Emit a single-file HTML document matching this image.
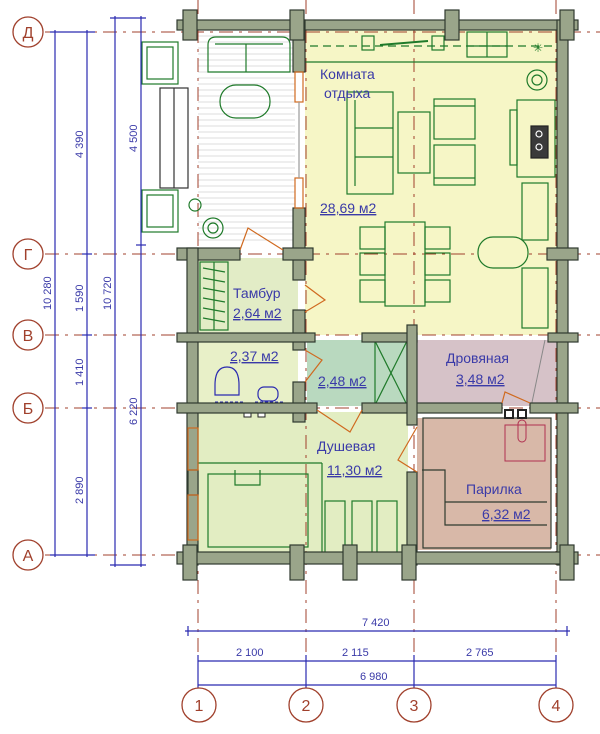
<!DOCTYPE html>
<html><head><meta charset="utf-8"><style>
html,body{margin:0;padding:0;background:#fff}
svg{display:block}
text{font-family:"Liberation Sans",sans-serif}
.t{fill:#3a3aa8;font-size:14px}
.d{fill:#3a3aa8;font-size:11px}
.ax{stroke:#a0402c;stroke-width:1;stroke-dasharray:14 6 3 6;fill:none}
.w{fill:#9aa58a;stroke:#2f3a2f;stroke-width:1.2}
.f{fill:none;stroke:#1f7a2a;stroke-width:1.2}
.dm{stroke:#2a2ab0;stroke-width:1.2;fill:none}
.c{fill:#fff;stroke:#a0402c;stroke-width:1.3}
.cl{fill:#a0402c;font-size:16px;text-anchor:middle}
</style></head><body>
<svg width="600" height="734" viewBox="0 0 600 734" xmlns="http://www.w3.org/2000/svg">
<!-- room fills -->
<rect x="305" y="30" width="253" height="305" fill="#f6f6c6"/>
<rect x="198" y="258" width="100" height="76" fill="#e2ecc6"/>
<rect x="198" y="340" width="100" height="66" fill="#e8f0c8"/>
<rect x="307" y="340" width="101" height="66" fill="#b9d9bf"/>
<rect x="417" y="340" width="140" height="66" fill="#d6c2c8"/>
<rect x="198" y="412" width="210" height="142" fill="#e2edc2"/>
<rect x="417" y="418" width="134" height="132" fill="#d8b8a8"/>
<!-- terrace hatch -->
<rect x="198" y="30" width="97" height="218" fill="#fff"/>
<g stroke="#d0d0d0" stroke-width="0.8">
<line x1="198" y1="36" x2="295" y2="36"/><line x1="198" y1="42" x2="295" y2="42"/><line x1="198" y1="48" x2="295" y2="48"/><line x1="198" y1="54" x2="295" y2="54"/><line x1="198" y1="60" x2="295" y2="60"/><line x1="198" y1="66" x2="295" y2="66"/><line x1="198" y1="72" x2="295" y2="72"/><line x1="198" y1="78" x2="295" y2="78"/><line x1="198" y1="84" x2="295" y2="84"/><line x1="198" y1="90" x2="295" y2="90"/><line x1="198" y1="96" x2="295" y2="96"/><line x1="198" y1="102" x2="295" y2="102"/><line x1="198" y1="108" x2="295" y2="108"/><line x1="198" y1="114" x2="295" y2="114"/><line x1="198" y1="120" x2="295" y2="120"/><line x1="198" y1="126" x2="295" y2="126"/><line x1="198" y1="132" x2="295" y2="132"/><line x1="198" y1="138" x2="295" y2="138"/><line x1="198" y1="144" x2="295" y2="144"/><line x1="198" y1="150" x2="295" y2="150"/><line x1="198" y1="156" x2="295" y2="156"/><line x1="198" y1="162" x2="295" y2="162"/><line x1="198" y1="168" x2="295" y2="168"/><line x1="198" y1="174" x2="295" y2="174"/><line x1="198" y1="180" x2="295" y2="180"/><line x1="198" y1="186" x2="295" y2="186"/><line x1="198" y1="192" x2="295" y2="192"/><line x1="198" y1="198" x2="295" y2="198"/><line x1="198" y1="204" x2="295" y2="204"/><line x1="198" y1="210" x2="295" y2="210"/><line x1="198" y1="216" x2="295" y2="216"/><line x1="198" y1="222" x2="295" y2="222"/><line x1="198" y1="228" x2="295" y2="228"/><line x1="198" y1="234" x2="295" y2="234"/><line x1="198" y1="240" x2="295" y2="240"/>
</g>
<!-- axes -->
<g class="ax">
<line x1="45" y1="32" x2="600" y2="32"/><line x1="45" y1="254" x2="600" y2="254"/><line x1="45" y1="335" x2="600" y2="335"/><line x1="45" y1="408" x2="600" y2="408"/><line x1="45" y1="555" x2="600" y2="555"/>
<line x1="198" y1="0" x2="198" y2="688"/><line x1="306" y1="0" x2="306" y2="688"/><line x1="414" y1="0" x2="414" y2="688"/><line x1="556" y1="0" x2="556" y2="688"/>
</g>
<!-- outside furniture left of terrace -->
<g class="f">
<rect x="142" y="42" width="36" height="42"/><rect x="147" y="47" width="26" height="32"/>
<rect x="142" y="190" width="36" height="42"/><rect x="147" y="195" width="26" height="32"/>
<rect x="160" y="88" width="28" height="100" stroke="#333"/><line x1="174" y1="88" x2="174" y2="188" stroke="#333"/>
<path d="M208 72 V45 q0-8 8-8 h66 q8 0 8 8 V72 Z"/><line x1="215" y1="44" x2="283" y2="44"/><line x1="246" y1="44" x2="246" y2="72"/>
<rect x="220" y="85" width="50" height="33" rx="16"/>
<circle cx="213" cy="228" r="10"/><circle cx="213" cy="228" r="5"/><circle cx="195" cy="205" r="6"/>
</g>
<!-- room otdykha furniture -->
<g class="f">
<line x1="305" y1="62" x2="557" y2="62" stroke="#1f7a2a"/>
<line x1="310" y1="46" x2="555" y2="46" stroke-dasharray="8 5"/>
<rect x="362" y="36" width="12" height="14"/><rect x="432" y="36" width="12" height="14"/>
<line x1="380" y1="45" x2="428" y2="41" stroke-width="2"/>
<rect x="467" y="32" width="40" height="25"/><line x1="487" y1="32" x2="487" y2="57"/><line x1="467" y1="46" x2="507" y2="46"/>
<text x="533" y="52" fill="#1f7a2a" font-size="12" stroke="none">✳</text>
<circle cx="537" cy="80" r="10"/><circle cx="537" cy="80" r="5"/>
<rect x="347" y="92" width="46" height="102"/><line x1="355" y1="100" x2="355" y2="186"/><line x1="355" y1="128" x2="393" y2="128"/><line x1="355" y1="157" x2="393" y2="157"/>
<rect x="398" y="112" width="32" height="61"/>
<rect x="434" y="99" width="41" height="40"/><line x1="434" y1="106" x2="475" y2="106"/>
<rect x="434" y="145" width="41" height="40"/><line x1="434" y1="178" x2="475" y2="178"/>
<rect x="517" y="100" width="38" height="77"/><rect x="510" y="110" width="7" height="55"/>
<rect x="531" y="126" width="17" height="32" fill="#3a3a3a" stroke="#222"/>
<circle cx="539" cy="134" r="3" fill="none" stroke="#fff"/><circle cx="539" cy="147" r="3" fill="none" stroke="#fff"/>
<rect x="385" y="222" width="40" height="84"/>
<rect x="360" y="227" width="25" height="22"/><rect x="360" y="253" width="25" height="22"/><rect x="360" y="280" width="25" height="22"/>
<rect x="425" y="227" width="25" height="22"/><rect x="425" y="253" width="25" height="22"/><rect x="425" y="280" width="25" height="22"/>
<rect x="522" y="183" width="26" height="57"/><rect x="522" y="268" width="26" height="60"/>
<rect x="478" y="237" width="50" height="31" rx="15" fill="#f6f6c6"/>
</g>
<!-- tambur hatch -->
<g class="f"><rect x="200" y="262" width="28" height="68"/><line x1="214" y1="262" x2="214" y2="330"/>
<path d="M203 268 L225 272 M203 278 L225 282 M203 288 L225 292 M203 298 L225 302 M203 308 L225 312 M203 318 L225 322"/></g>
<!-- 2.37 wc -->
<g stroke="#2a2ab0" fill="none" stroke-width="1.2">
<path d="M215 385 q0-18 12-18 q12 0 12 18 v10 h-24 Z"/><rect x="258" y="387" width="20" height="14" rx="6"/>
<path d="M215 403 h30 M255 403 h30" stroke-dasharray="3 2" stroke-width="3"/>
</g>
<rect x="244" y="410" width="7" height="7" fill="#fff" stroke="#222"/><rect x="258" y="410" width="7" height="7" fill="#fff" stroke="#222"/>
<!-- 2.48 cross -->
<g class="f"><rect x="375" y="341" width="32" height="64"/><line x1="375" y1="341" x2="407" y2="405"/><line x1="407" y1="341" x2="375" y2="405"/></g>
<!-- shower furniture -->
<g class="f">
<line x1="198" y1="463" x2="322" y2="463"/><line x1="322" y1="463" x2="322" y2="555"/>
<rect x="208" y="474" width="100" height="73"/>
<path d="M235 470 V485 H260 V470"/>
<rect x="325" y="501" width="20" height="52"/><rect x="352" y="501" width="20" height="52"/><rect x="377" y="501" width="20" height="52"/>
</g>
<!-- parilka -->
<g stroke="#2f3a2f" fill="none" stroke-width="1.2">
<rect x="423" y="418" width="128" height="130"/>
<path d="M422 470 H445 V525 H547"/><line x1="445" y1="502" x2="547" y2="502"/>
</g>
<rect x="505" y="425" width="40" height="36" fill="none" stroke="#b03050"/>
<rect x="518" y="420" width="8" height="22" rx="4" fill="none" stroke="#b03050"/>
<rect x="505" y="410" width="8" height="8" fill="#fff" stroke="#222" stroke-width="2"/><rect x="518" y="410" width="8" height="8" fill="#fff" stroke="#222" stroke-width="2"/>
<line x1="530" y1="412" x2="545" y2="340" stroke="#888"/>
<!-- walls -->
<g class="w">
<rect x="177" y="20" width="401" height="10"/>
<rect x="557" y="20" width="11" height="545"/>
<rect x="293" y="20" width="12" height="52"/><rect x="293" y="208" width="12" height="72"/>
<rect x="293" y="310" width="12" height="40"/><rect x="293" y="382" width="12" height="40"/>
<rect x="177" y="248" width="63" height="12"/><rect x="283" y="248" width="30" height="12"/><rect x="547" y="248" width="31" height="12"/>
<rect x="187" y="248" width="11" height="317"/>
<rect x="177" y="333" width="138" height="9"/><rect x="362" y="333" width="55" height="9"/><rect x="548" y="333" width="30" height="9"/>
<rect x="177" y="403" width="140" height="10"/><rect x="362" y="403" width="140" height="10"/><rect x="530" y="403" width="48" height="10"/>
<rect x="407" y="325" width="10" height="100"/><rect x="407" y="472" width="10" height="93"/>
<rect x="177" y="552" width="401" height="12"/>
<rect x="183" y="10" width="14" height="30"/><rect x="290" y="10" width="14" height="30"/><rect x="445" y="10" width="14" height="30"/><rect x="560" y="10" width="14" height="30"/>
<rect x="183" y="545" width="14" height="35"/><rect x="290" y="545" width="14" height="35"/><rect x="343" y="545" width="14" height="35"/><rect x="402" y="545" width="14" height="35"/><rect x="560" y="545" width="14" height="35"/>
<rect x="188" y="470" width="10" height="25"/>
</g>
<!-- windows / doors orange -->
<g stroke="#d06a20" fill="none" stroke-width="1.2">
<rect x="295" y="72" width="8" height="30"/><rect x="295" y="178" width="8" height="30"/><line x1="299" y1="102" x2="299" y2="178" stroke="#999"/>
<rect x="188" y="428" width="10" height="42"/><rect x="188" y="495" width="10" height="45"/>
<path d="M240 250 L248 228 L283 250"/><path d="M305 285 L325 300 L305 312"/>
<path d="M305 350 L322 360 L305 382"/><path d="M317 410 L350 432 L362 410"/>
<path d="M417 427 L398 460 L417 472"/><path d="M502 403 L505 392 L530 403"/>
</g>
<!-- labels -->
<text class="t" x="320" y="79">Комната</text><text class="t" x="324" y="98">отдыха</text>
<text class="t" x="320" y="213" text-decoration="underline">28,69 м2</text>
<text class="t" x="233" y="298">Тамбур</text><text class="t" x="233" y="318" text-decoration="underline">2,64 м2</text>
<text class="t" x="230" y="361" text-decoration="underline">2,37 м2</text>
<text class="t" x="318" y="386" text-decoration="underline">2,48 м2</text>
<text class="t" x="446" y="363">Дровяная</text><text class="t" x="456" y="384" text-decoration="underline">3,48 м2</text>
<text class="t" x="317" y="451">Душевая</text><text class="t" x="327" y="475" text-decoration="underline">11,30 м2</text>
<text class="t" x="466" y="494">Парилка</text><text class="t" x="482" y="519" text-decoration="underline">6,32 м2</text>
<!-- left dims -->
<g class="dm">
<line x1="55" y1="30" x2="55" y2="557"/><line x1="87" y1="30" x2="87" y2="557"/>
<line x1="115" y1="16" x2="115" y2="567"/><line x1="141" y1="16" x2="141" y2="567"/>
<line x1="50" y1="32" x2="95" y2="32"/><line x1="82" y1="254" x2="92" y2="254"/><line x1="82" y1="335" x2="92" y2="335"/><line x1="82" y1="408" x2="92" y2="408"/><line x1="50" y1="555" x2="95" y2="555"/>
<line x1="110" y1="18" x2="146" y2="18"/><line x1="136" y1="245" x2="146" y2="245"/><line x1="110" y1="565" x2="146" y2="565"/>
<line x1="185" y1="631" x2="570" y2="631"/>
<line x1="198" y1="661" x2="556" y2="661"/><line x1="198" y1="685" x2="556" y2="685"/>
<line x1="198" y1="655" x2="198" y2="688"/><line x1="306" y1="655" x2="306" y2="688"/><line x1="414" y1="655" x2="414" y2="688"/><line x1="556" y1="655" x2="556" y2="688"/>
<line x1="188" y1="626" x2="188" y2="636"/><line x1="567" y1="626" x2="567" y2="636"/>
</g>
<g class="d">
<text transform="translate(51,310) rotate(-90)">10 280</text>
<text transform="translate(83,158) rotate(-90)">4 390</text>
<text transform="translate(83,312) rotate(-90)">1 590</text>
<text transform="translate(83,386) rotate(-90)">1 410</text>
<text transform="translate(83,504) rotate(-90)">2 890</text>
<text transform="translate(111,310) rotate(-90)">10 720</text>
<text transform="translate(137,152) rotate(-90)">4 500</text>
<text transform="translate(137,425) rotate(-90)">6 220</text>
<text x="362" y="626">7 420</text>
<text x="236" y="656">2 100</text><text x="342" y="656">2 115</text><text x="466" y="656">2 765</text>
<text x="360" y="680">6 980</text>
</g>
<!-- axis circles -->
<circle class="c" cx="28" cy="32" r="15"/><text class="cl" x="28" y="38">Д</text>
<circle class="c" cx="28" cy="254" r="15"/><text class="cl" x="28" y="260">Г</text>
<circle class="c" cx="28" cy="335" r="15"/><text class="cl" x="28" y="341">В</text>
<circle class="c" cx="28" cy="408" r="15"/><text class="cl" x="28" y="414">Б</text>
<circle class="c" cx="28" cy="555" r="15"/><text class="cl" x="28" y="561">А</text>
<circle class="c" cx="199" cy="705" r="17"/><text class="cl" x="199" y="711">1</text>
<circle class="c" cx="306" cy="705" r="17"/><text class="cl" x="306" y="711">2</text>
<circle class="c" cx="414" cy="705" r="17"/><text class="cl" x="414" y="711">3</text>
<circle class="c" cx="556" cy="705" r="17"/><text class="cl" x="556" y="711">4</text>
</svg>
</body></html>
